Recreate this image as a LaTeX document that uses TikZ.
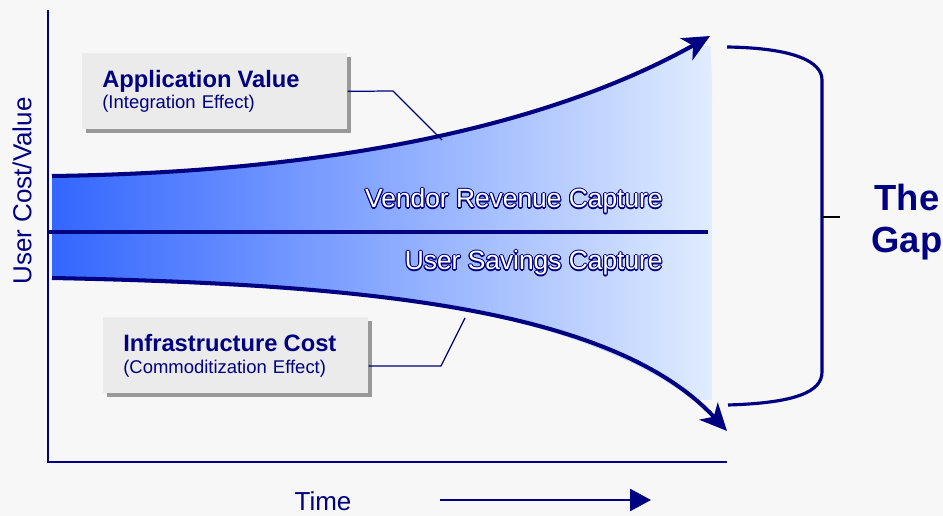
\documentclass[tikz,border=0pt]{standalone}
\usepackage{fontspec}
\setmainfont{Liberation Sans}
\usepackage{contour}
\usetikzlibrary{positioning,arrows.meta,shadows}

\definecolor{navyline}{RGB}{0,0,128}
\definecolor{pagegray}{RGB}{247,247,247}
\definecolor{boxgray}{RGB}{235,235,235}
\definecolor{funnelleft}{RGB}{51,102,255}
\definecolor{funnelright}{RGB}{228,239,255}
\contourlength{0.6pt}

\begin{document}
\begin{tikzpicture}[
    x=0.02cm, y=-0.02cm,
    infobox/.style={fill=boxgray, anchor=north west, align=left, text width=4.5cm, inner xsep=0.4cm, inner ysep=0pt, minimum height=1.52cm, text=navyline, font=\fontsize{10.5}{12.5}\selectfont, drop shadow={shadow xshift=0.07cm, shadow yshift=-0.07cm, fill=black!40, opacity=1}},
    curve/.style={navyline, line width=2.3pt, -{Stealth[length=5.4mm,width=5mm,inset=1.5mm]}},
    axis/.style={navyline, line width=1.6pt},
    callout/.style={navyline, line width=0.7pt},
    hollow/.style={anchor=base east, inner sep=0pt, text=white, font=\fontsize{15}{18}\selectfont},
    axislabel/.style={text=navyline, font=\fontsize{14.8}{18}\selectfont, inner sep=0pt}
]
% Page
\fill[pagegray] (0,0) rectangle (943,516);
\clip (0,0) rectangle (943,516);

% Curve ends
\coordinate (valstart) at (52,176);
\coordinate (valtip) at (710,36);
\coordinate (coststart) at (52,278);
\coordinate (costtip) at (727,431);

% Funnel
\begin{scope}
\clip (50,47) rectangle (712,400);
\shade[left color=funnelleft, right color=funnelright] (valstart) .. controls (350,172) and (560,120) .. (valtip) -- (costtip) .. controls (610,305) and (350,284) .. (coststart) -- cycle;
\end{scope}
\draw[axis, line width=2pt] (48,232) -- (708,232);
\draw[curve] (valstart) .. controls (350,172) and (560,120) .. (valtip);
\draw[curve] (coststart) .. controls (350,284) and (610,305) .. (costtip);

% Axes
\coordinate (ytop) at (48,10);
\coordinate (origin) at (48,462);
\coordinate (xend) at (727,462);
\draw[axis] (ytop) -- (origin) -- (xend);

% Nodes
\node[hollow] (vendor) at (663,208) {\contour{navyline}{Vendor Revenue Capture}};
\node[hollow] (savings) at (663,270) {\contour{navyline}{User Savings Capture}};
\node[infobox] (app) at (82,53) {{\fontsize{13.5}{12.5}\selectfont\bfseries Application Value}\\(Integration Effect)};
\node[infobox] (infra) at (103,317) {{\fontsize{13.5}{12.5}\selectfont\bfseries Infrastructure Cost}\\(Commoditization Effect)};
\node[axislabel, rotate=90] (yname) at (22,191) {User Cost/Value};
\node[axislabel, anchor=base] (tname) at (323,511) {Time};
\node[text=navyline, align=center, font=\fontsize{20.7}{24}\selectfont\bfseries, inner sep=0pt] (gap) at (907,222) {The\\Gap};

% Callouts
\coordinate (appknee) at (393,91);
\coordinate (apptouch) at (442,140);
\coordinate (infraknee) at (441,366);
\coordinate (infratouch) at (465,318);
\draw[callout] (app.east) -- (appknee) -- (apptouch);
\draw[callout] (infra.east |- infraknee) -- (infraknee) -- (infratouch);

% Brace
\draw[axis, line width=1.8pt] (727,47) .. controls (795,48) and (822,62) .. (822,80) -- (822,372) .. controls (822,392) and (795,403) .. (728,405);
\draw[black, line width=1.6pt] (822,217) -- (840,217);

% Time arrow
\coordinate (tfrom) at (440,500);
\coordinate (tto) at (651,500);
\draw[axis, line width=1.4pt, -{Triangle[length=4.2mm,width=4.4mm]}] (tfrom) -- (tto);

\end{tikzpicture}
\end{document}
